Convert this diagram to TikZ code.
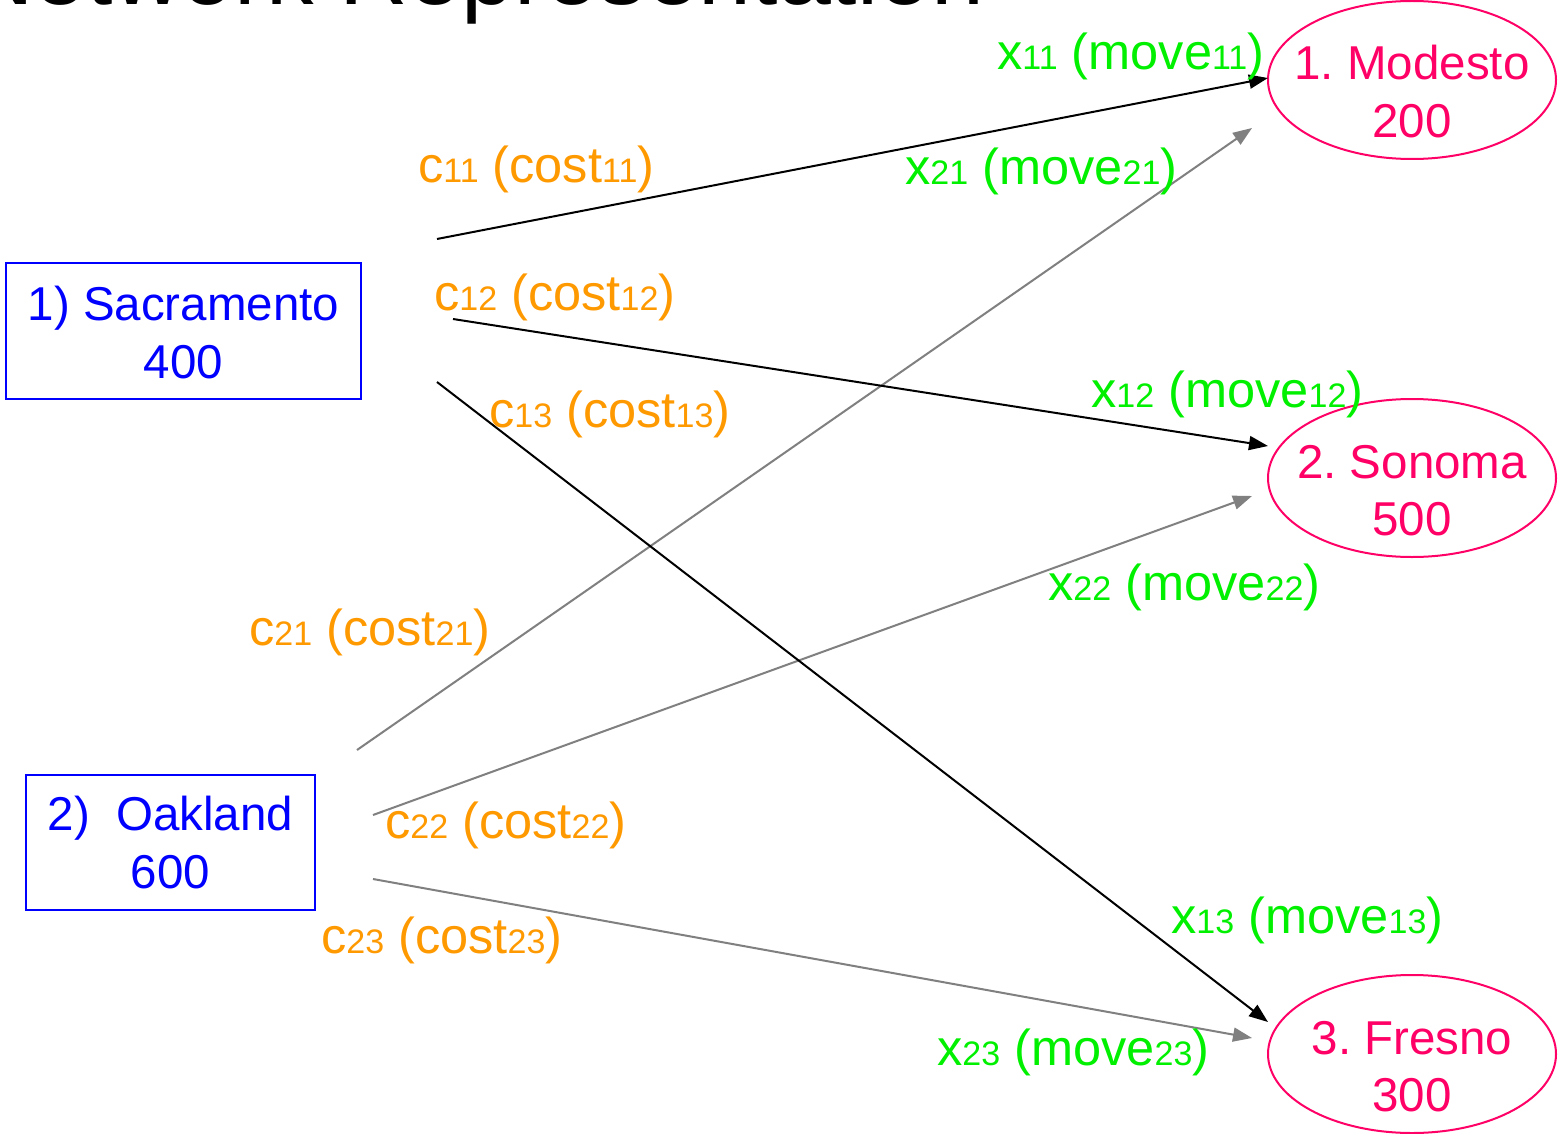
\documentclass[tikz,border=0pt]{standalone}
\usepackage{fontspec}
\setmainfont{Liberation Sans}
\usetikzlibrary{arrows.meta,shapes.geometric}
\definecolor{srcblue}{HTML}{0000FF}
\definecolor{dstpink}{HTML}{FF0066}
\definecolor{costorange}{HTML}{FF9900}
\definecolor{movegreen}{HTML}{00F000}
\definecolor{arrgray}{HTML}{808080}
\newcommand\smn[1]{{\fontsize{34}{34}\selectfont #1}}
\newcommand\dsttext[2]{\makebox[0pt]{\raisebox{0pt}[0pt][0pt]{\begin{tabular}[t]{@{}c@{}}#1\\#2\end{tabular}}}}
\frenchspacing
\tikzset{
  srcbox/.style={draw=srcblue, line width=2pt, text=srcblue, rectangle, align=center,
    font=\fontsize{47.5}{57.5}\selectfont, inner sep=0pt},
  dstnode/.style={draw=dstpink, line width=2pt, text=dstpink, ellipse,
    minimum width=288pt, minimum height=158pt, inner sep=0pt,
    font=\fontsize{47.5}{57.5}\selectfont},
  costlab/.style={text=costorange, anchor=base west, inner sep=0pt, font=\fontsize{50.5}{50}\selectfont},
  movelab/.style={text=movegreen, anchor=base west, inner sep=0pt, font=\fontsize{50.5}{50}\selectfont},
  mainflow/.style={draw=black, line width=2pt, -{Triangle[length=19pt,width=14pt]}},
  altflow/.style={draw=arrgray, line width=2pt, arrgray, -{Triangle[length=19pt,width=14pt]}},
}
\begin{document}
\begin{tikzpicture}[x=1pt,y=-1pt]
\useasboundingbox (0,0) rectangle (1560,1134);
\clip (0,0) rectangle (1560,1134);
\fill[white] (0,0) rectangle (1560,1134);
% title (cut off at top)
\node[anchor=base west, inner sep=0pt, font=\fontsize{95}{95}\selectfont] (title) at (-35,5) {Network Representation};
% sources
\node[srcbox, minimum width=355pt, minimum height=136pt, text height=94pt, text depth=0pt] (sac) at (183.5,331) {1) Sacramento\\400};
\node[srcbox, minimum width=289pt, minimum height=135pt, text height=91pt, text depth=0pt] (oak) at (170.5,842.5) {2)\ \ Oakland\\600};
% destinations
\node[dstnode] (mod) at (1412,80) {\dsttext{1. Modesto}{200}};
\node[dstnode] (son) at (1412,478) {\dsttext{2. Sonoma}{500}};
\node[dstnode] (fre) at (1412,1054) {\dsttext{3. Fresno}{300}};
% connector ends
\coordinate (s11) at (437,239);  \coordinate (e11) at (1268,78);
\coordinate (s12) at (453,319);  \coordinate (e12) at (1268,446);
\coordinate (s13) at (437,382);  \coordinate (e13) at (1268,1022);
\coordinate (s21) at (357,750);  \coordinate (e21) at (1252,128);
\coordinate (s22) at (373,815);  \coordinate (e22) at (1252,496);
\coordinate (s23) at (373,879);  \coordinate (e23) at (1252,1038);
\draw[altflow] (s21) -- (e21);
\draw[altflow] (s22) -- (e22);
\draw[altflow] (s23) -- (e23);
\draw[mainflow] (s11) -- (e11);
\draw[mainflow] (s12) -- (e12);
\draw[mainflow] (s13) -- (e13);
% labels
\node[costlab] (c11) at (418,183) {c\smn{11} (cost\smn{11})};
\node[costlab] (c12) at (434,310) {c\smn{12} (cost\smn{12})};
\node[costlab] (c13) at (489,427) {c\smn{13} (cost\smn{13})};
\node[costlab] (c21) at (249,645) {c\smn{21} (cost\smn{21})};
\node[costlab] (c22) at (385,838) {c\smn{22} (cost\smn{22})};
\node[costlab] (c23) at (321,953) {c\smn{23} (cost\smn{23})};
\node[movelab] (x11) at (997,70) {x\smn{11} (move\smn{11})};
\node[movelab] (x21) at (905,185) {x\smn{21} (move\smn{21})};
\node[movelab] (x12) at (1091,407) {x\smn{12} (move\smn{12})};
\node[movelab] (x22) at (1048,600) {x\smn{22} (move\smn{22})};
\node[movelab] (x13) at (1171,933) {x\smn{13} (move\smn{13})};
\node[movelab] (x23) at (937,1065) {x\smn{23} (move\smn{23})};
\end{tikzpicture}
\end{document}
